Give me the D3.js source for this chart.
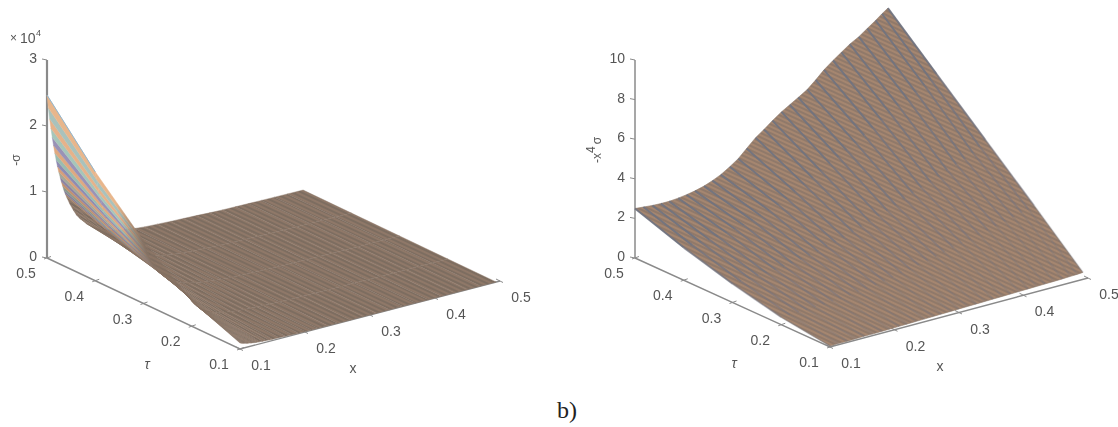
<!DOCTYPE html>
<html>
<head>
<meta charset="utf-8">
<script src="https://cdnjs.cloudflare.com/ajax/libs/d3/7.8.5/d3.min.js"></script>
<style>
  html, body { margin: 0; padding: 0; background: #fff; }
  text { font-family: "Liberation Sans", Arial, sans-serif; fill: #555; }
</style>
</head>
<body>
<svg id="chart" width="1118" height="427"></svg>
<script>
// tick labels
var xTicks = [0.1, 0.2, 0.3, 0.4, 0.5];
var tauTicks = [0.5, 0.4, 0.3, 0.2, 0.1];
var sigmaTicks = [0, 1, 2, 3];
var scaledTicks = [0, 2, 4, 6, 8, 10];

// the tau values every line is sampled at
var tauSamples = [0.5, 0.4, 0.3, 0.2, 0.1];

// left plot: x of each line, then -sigma (x 10^4) read at each tau
var sigmaX = [0.100, 0.102, 0.104, 0.106, 0.108, 0.110, 0.112, 0.114, 0.116, 0.118, 0.120, 0.122, 0.124, 0.126, 0.128, 0.130, 0.135, 0.14, 0.145, 0.15, 0.16, 0.17, 0.18, 0.19, 0.2, 0.21, 0.22, 0.235, 0.25, 0.27, 0.29, 0.31, 0.33, 0.35, 0.37, 0.39, 0.41, 0.43, 0.45, 0.47, 0.494];
var sigmaTau50 = [2.47, 2.27, 2.10, 1.95, 1.81, 1.68, 1.56, 1.45, 1.35, 1.26, 1.18, 1.10, 1.03, 0.96, 0.90, 0.85, 0.73, 0.63, 0.54, 0.475, 0.37, 0.295, 0.24, 0.195, 0.165, 0.14, 0.125, 0.10, 0.085, 0.075, 0.065, 0.058, 0.05, 0.04, 0.033, 0.03, 0.026, 0.023, 0.02, 0.018, 0.015];
var sigmaTau40 = [1.65, 1.53, 1.41, 1.31, 1.22, 1.13, 1.05, 0.98, 0.92, 0.86, 0.80, 0.75, 0.70, 0.66, 0.63, 0.59, 0.51, 0.44, 0.39, 0.345, 0.27, 0.22, 0.18, 0.15, 0.128, 0.108, 0.094, 0.078, 0.065, 0.055, 0.046, 0.039, 0.033, 0.029, 0.025, 0.022, 0.019, 0.017, 0.015, 0.013, 0.011];
var sigmaTau30 = [0.95, 0.88, 0.82, 0.76, 0.70, 0.66, 0.61, 0.57, 0.53, 0.50, 0.47, 0.44, 0.41, 0.39, 0.37, 0.345, 0.30, 0.26, 0.23, 0.205, 0.16, 0.13, 0.11, 0.09, 0.08, 0.07, 0.057, 0.047, 0.04, 0.035, 0.029, 0.024, 0.02, 0.018, 0.016, 0.014, 0.012, 0.011, 0.01, 0.009, 0.008];
var sigmaTau20 = [0.38, 0.355, 0.33, 0.305, 0.285, 0.265, 0.245, 0.23, 0.215, 0.20, 0.19, 0.175, 0.165, 0.155, 0.145, 0.14, 0.12, 0.107, 0.095, 0.083, 0.068, 0.056, 0.047, 0.04, 0.036, 0.031, 0.027, 0.023, 0.02, 0.017, 0.014, 0.012, 0.011, 0.01, 0.009, 0.008, 0.007, 0.006, 0.006, 0.005, 0.004];
var sigmaTau10 = [0.09, 0.083, 0.077, 0.071, 0.066, 0.061, 0.057, 0.053, 0.05, 0.046, 0.043, 0.041, 0.038, 0.036, 0.034, 0.032, 0.027, 0.024, 0.021, 0.019, 0.015, 0.012, 0.01, 0.008, 0.007, 0.006, 0.005, 0.004, 0.004, 0.003, 0.003, 0.002, 0.002, 0.002, 0.001, 0.001, 0.001, 0.001, 0.001, 0.001, 0.001];

// right plot: x of each line, then -x^4 sigma read at each tau
var scaledX = [0.1, 0.113, 0.127, 0.14, 0.153, 0.167, 0.18, 0.193, 0.207, 0.22, 0.233, 0.247, 0.26, 0.273, 0.287, 0.3, 0.313, 0.327, 0.34, 0.353, 0.367, 0.38, 0.393, 0.407, 0.42, 0.433, 0.447, 0.46, 0.473, 0.483, 0.492];
var scaledTau50 = [2.5, 2.46, 2.42, 2.40, 2.4, 2.44, 2.5, 2.58, 2.7, 2.86, 3.05, 3.33, 3.62, 4.02, 4.45, 4.75, 5.08, 5.4, 5.65, 5.9, 6.18, 6.55, 6.95, 7.3, 7.6, 7.9, 8.15, 8.45, 8.75, 9.0, 9.2];
var scaledTau40 = [1.65, 1.66, 1.68, 1.70, 1.74, 1.80, 1.88, 1.97, 2.08, 2.2, 2.35, 2.52, 2.72, 2.95, 3.2, 3.42, 3.65, 3.9, 4.12, 4.35, 4.6, 4.87, 5.15, 5.4, 5.65, 5.9, 6.12, 6.35, 6.6, 6.8, 7.0];
var scaledTau30 = [0.95, 0.96, 0.98, 1.0, 1.03, 1.07, 1.12, 1.18, 1.25, 1.33, 1.42, 1.53, 1.65, 1.78, 1.93, 2.08, 2.23, 2.4, 2.55, 2.72, 2.9, 3.07, 3.25, 3.42, 3.6, 3.77, 3.95, 4.12, 4.3, 4.55, 4.8];
var scaledTau20 = [0.38, 0.39, 0.4, 0.41, 0.43, 0.46, 0.49, 0.53, 0.57, 0.62, 0.68, 0.74, 0.81, 0.89, 0.98, 1.07, 1.16, 1.26, 1.36, 1.46, 1.56, 1.67, 1.78, 1.89, 2.0, 2.1, 2.2, 2.3, 2.4, 2.5, 2.6];
var scaledTau10 = [0.05, 0.06, 0.06, 0.07, 0.08, 0.08, 0.09, 0.10, 0.11, 0.12, 0.13, 0.14, 0.15, 0.16, 0.17, 0.18, 0.19, 0.20, 0.21, 0.22, 0.23, 0.24, 0.25, 0.26, 0.27, 0.28, 0.29, 0.30, 0.32, 0.33, 0.35];

var axisColor = '#8a8a8a';
var bandColors = ['#e8b68c', '#a9c2bc', '#e6b28a', '#a6c6ba', '#9a92b6', '#dfa980', '#9abcb0', '#8e8bb2', '#d69f7a', '#a3a898', '#8d84a2', '#c2906e', '#8c988c', '#847e98', '#a48268'];
var brown = '#857163';
// opacity of the right plot stripes on each tau step, they wash out near the floor
var stripeFade = [0.9, 0.7, 0.45, 0.25];

var svg = d3.select('#chart');
var defs = svg.append('defs');
defs.append('filter').attr('id', 'soft')
    .attr('x', '-5%').attr('y', '-5%').attr('width', '110%').attr('height', '110%')
    .append('feGaussianBlur').attr('stdDeviation', 0.45);

// fine weave seen where the lines are too dense to tell apart
function addWeave(id, light, dark) {
    var p = defs.append('pattern').attr('id', id)
        .attr('patternUnits', 'userSpaceOnUse')
        .attr('width', 4).attr('height', 4)
        .attr('patternTransform', 'rotate(25)');
    p.append('rect').attr('width', 4).attr('height', 2).attr('fill', light);
    p.append('rect').attr('y', 2).attr('width', 4).attr('height', 2).attr('fill', dark);
}
addWeave('weaveLeft', '#8f7868', '#7d6d61');
addWeave('weaveRight', '#a5866f', '#90796a');

var line = d3.line();

// one 3-d box: the x, tau and z axes are scales onto pixel offsets
function makeProjection(box) {
    var xPx = d3.scaleLinear().domain([0.1, 0.5]).range([0, box.xVec[0]]);
    var xPy = d3.scaleLinear().domain([0.1, 0.5]).range([0, box.xVec[1]]);
    var tPx = d3.scaleLinear().domain([0.5, 0.1]).range([0, box.tauVec[0]]);
    var tPy = d3.scaleLinear().domain([0.5, 0.1]).range([0, box.tauVec[1]]);
    var zPy = d3.scaleLinear().domain(box.zDomain).range([0, box.zHeight]);
    return function(x, tau, z) {
        return [box.ox + xPx(x) + tPx(tau), box.oy + xPy(x) + tPy(tau) - zPy(z)];
    };
}

function drawFrame(g, project, zTicks, zMax, zWidth) {
    var frame = g.append('g').attr('stroke', axisColor).attr('fill', 'none');
    frame.append('path').attr('stroke-width', zWidth)
        .attr('d', line([project(0.1, 0.5, zMax), project(0.1, 0.5, 0)]));
    frame.append('path').attr('stroke-width', 1.4)
        .attr('d', line([project(0.1, 0.5, 0), project(0.1, 0.1, 0), project(0.5, 0.1, 0)]));

    zTicks.forEach(function(t) {
        var p = project(0.1, 0.5, t);
        frame.append('path').attr('stroke-width', 1).attr('d', line([[p[0] - 5, p[1] - 1], p]));
        g.append('text').attr('x', p[0] - 10).attr('y', p[1] + 3).attr('text-anchor', 'end')
            .attr('font-size', 14).text(t);
    });
    tauTicks.forEach(function(t) {
        var p = project(0.1, t, 0);
        frame.append('path').attr('stroke-width', 1).attr('d', line([[p[0] - 3, p[1] + 1], [p[0] + 4, p[1] - 1.5]]));
        g.append('text').attr('x', p[0] - 21).attr('y', p[1] + 20).attr('text-anchor', 'middle')
            .attr('font-size', 14).text(d3.format('.1f')(t));
    });
    xTicks.forEach(function(t) {
        var p = project(t, 0.1, 0);
        frame.append('path').attr('stroke-width', 1).attr('d', line([[p[0] - 4, p[1] - 2], [p[0] + 3, p[1] + 1.5]]));
        g.append('text').attr('x', p[0] + 21).attr('y', p[1] + 21).attr('text-anchor', 'middle')
            .attr('font-size', 14).text(d3.format('.1f')(t));
    });
}

// ---- left plot
var leftBox = { ox: 47, oy: 258, xVec: [260, -68], tauVec: [193, 91], zDomain: [0, 3], zHeight: 198 };
var left = svg.append('g').attr('filter', 'url(#soft)');
var projectLeft = makeProjection(leftBox);
var sigmaRows = [sigmaTau50, sigmaTau40, sigmaTau30, sigmaTau20, sigmaTau10];

drawFrame(left, projectLeft, sigmaTicks, 3, 2.2);

// a band holds its colour down the steep part and melts into the brown further on
bandColors.forEach(function(color, i) {
    var from = projectLeft(sigmaX[i], tauSamples[1], sigmaRows[1][i]);
    var to = projectLeft(sigmaX[i], tauSamples[2], sigmaRows[2][i]);
    var grad = defs.append('linearGradient').attr('id', 'band' + i)
        .attr('gradientUnits', 'userSpaceOnUse')
        .attr('x1', from[0]).attr('y1', from[1])
        .attr('x2', to[0]).attr('y2', to[1]);
    grad.append('stop').attr('offset', 0.45).attr('stop-color', color);
    grad.append('stop').attr('offset', 1).attr('stop-color', brown);
});

// strips between neighbouring lines, highest x first so the steep bands end up on top
d3.range(sigmaX.length - 2, -1, -1).forEach(function(i) {
    d3.range(tauSamples.length - 2, -1, -1).forEach(function(k) {
        var quad = [
            projectLeft(sigmaX[i], tauSamples[k], sigmaRows[k][i]),
            projectLeft(sigmaX[i], tauSamples[k + 1], sigmaRows[k + 1][i]),
            projectLeft(sigmaX[i + 1], tauSamples[k + 1], sigmaRows[k + 1][i + 1]),
            projectLeft(sigmaX[i + 1], tauSamples[k], sigmaRows[k][i + 1])
        ];
        var fill = 'url(#weaveLeft)';
        var edge = brown;
        if (i < bandColors.length && k < 2) {
            fill = k === 0 ? bandColors[i] : 'url(#band' + i + ')';
            edge = fill;
        }
        left.append('path')
            .attr('d', line(quad) + 'Z')
            .attr('fill', fill)
            .attr('stroke', edge)
            .attr('stroke-width', 0.4);
    });
});

// the first line keeps its blue along the upper edge
left.append('path')
    .attr('d', line(tauSamples.slice(0, 2).map(function(tau, k) { return projectLeft(sigmaX[0], tau, sigmaRows[k][0]); })))
    .attr('fill', 'none')
    .attr('stroke', '#8db6d2')
    .attr('stroke-width', 1);

left.append('text').attr('x', 10).attr('y', 42).attr('font-size', 12).text('×');
left.append('text').attr('x', 20).attr('y', 43).attr('font-size', 14).text('10');
left.append('text').attr('x', 36).attr('y', 36).attr('font-size', 9).text('4');
left.append('text').attr('transform', 'translate(20,160) rotate(-90)').attr('text-anchor', 'middle')
    .attr('font-size', 12).text('-σ');
left.append('text').attr('x', 147).attr('y', 369).attr('text-anchor', 'middle')
    .attr('font-size', 14).attr('font-style', 'italic').text('τ');
left.append('text').attr('x', 353).attr('y', 373).attr('text-anchor', 'middle')
    .attr('font-size', 14).text('x');

// ---- right plot
var rightBox = { ox: 635, oy: 258, xVec: [258, -69], tauVec: [195, 89], zDomain: [0, 10], zHeight: 198 };
var right = svg.append('g').attr('filter', 'url(#soft)');
var projectRight = makeProjection(rightBox);
var scaledRows = [scaledTau50, scaledTau40, scaledTau30, scaledTau20, scaledTau10];

drawFrame(right, projectRight, scaledTicks, 10, 1.5);

// surface outline from the first and last lines and both end rows
var lastIdx = scaledX.length - 1;
var outline = []
    .concat(scaledX.map(function(x, i) { return projectRight(x, 0.5, scaledTau50[i]); }))
    .concat(tauSamples.map(function(tau, k) { return projectRight(scaledX[lastIdx], tau, scaledRows[k][lastIdx]); }))
    .concat(scaledX.map(function(x, i) { return projectRight(x, 0.1, scaledTau10[i]); }).reverse())
    .concat(tauSamples.map(function(tau, k) { return projectRight(0.1, tau, scaledRows[k][0]); }).reverse());
right.append('path').attr('d', line(outline) + 'Z').attr('fill', 'url(#weaveRight)').attr('stroke', '#8f7b6c').attr('stroke-width', 0.6);

scaledX.forEach(function(x, i) {
    d3.range(tauSamples.length - 1).forEach(function(k) {
        right.append('path')
            .attr('d', line([
                projectRight(x, tauSamples[k], scaledRows[k][i]),
                projectRight(x, tauSamples[k + 1], scaledRows[k + 1][i])
            ]))
            .attr('fill', 'none')
            .attr('stroke', '#6f7280')
            .attr('stroke-opacity', stripeFade[k])
            .attr('stroke-width', 2);
    });
});

var yLabel = right.append('text').attr('transform', 'translate(601,150) rotate(-90)')
    .attr('text-anchor', 'middle').attr('font-size', 12);
yLabel.append('tspan').text('-x');
yLabel.append('tspan').attr('dy', -6).attr('font-size', 12).text('4');
yLabel.append('tspan').attr('dy', 6).attr('dx', 2).text('σ');
right.append('text').attr('x', 734).attr('y', 368).attr('text-anchor', 'middle')
    .attr('font-size', 14).attr('font-style', 'italic').text('τ');
right.append('text').attr('x', 940).attr('y', 371).attr('text-anchor', 'middle')
    .attr('font-size', 14).text('x');

svg.append('text').attr('x', 567).attr('y', 418).attr('text-anchor', 'middle')
    .attr('font-size', 24)
    .style('font-family', '"Liberation Serif", serif')
    .style('fill', '#222')
    .text('b)');
</script>
</body>
</html>
